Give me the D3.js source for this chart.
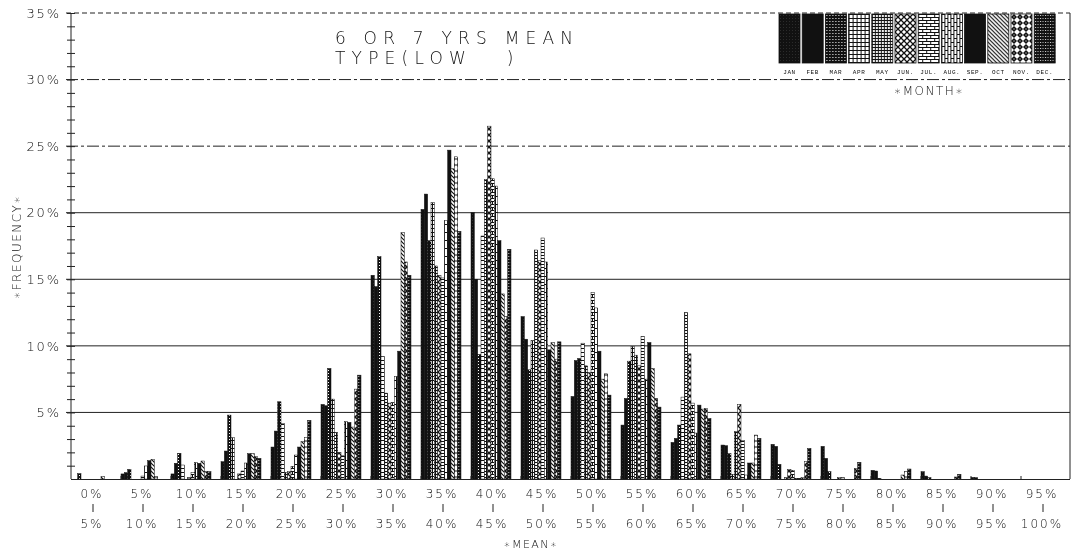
<!DOCTYPE html>
<html>
<head>
<meta charset="utf-8">
<script src="https://cdn.jsdelivr.net/npm/d3@7"></script>
<style>
  body { margin: 0; background: #fff; }
  svg { will-change: transform; }
  text { font-family: "Liberation Mono", "DejaVu Sans Mono", monospace; fill: #111;
    -webkit-font-smoothing: antialiased; }
  .thin { font-family: "DejaVu Sans", sans-serif; font-weight: 200; }
</style>
</head>
<body>
<svg width="1076" height="557"></svg>
<script>
// bins of the mean (lower / upper bound labels)
const binLow = ["0%", "5%", "10%", "15%", "20%", "25%", "30%", "35%", "40%", "45%",
  "50%", "55%", "60%", "65%", "70%", "75%", "80%", "85%", "90%", "95%"];
const binHigh = ["5%", "10%", "15%", "20%", "25%", "30%", "35%", "40%", "45%", "50%",
  "55%", "60%", "65%", "70%", "75%", "80%", "85%", "90%", "95%", "100%"];
const months = ["JAN", "FEB", "MAR", "APR", "MAY", "JUN.", "JUL.", "AUG.", "SEP.", "OCT", "NOV.", "DEC."];
const yTicks = [5, 10, 15, 20, 25, 30, 35];

// frequency (%) per bin, one array per month
const jan = [0, 0.38, 0.38, 1.3, 2.4, 5.6, 15.3, 20.25, 20.0, 12.2, 6.2, 4.05, 2.75, 2.55, 2.6, 2.45, 0.65, 0.55, 0.12, 0];
const feb = [0, 0.48, 1.18, 2.1, 3.6, 5.5, 14.45, 21.4, 15.0, 10.5, 8.9, 6.05, 3.05, 2.5, 2.45, 1.55, 0.6, 0.22, 0.1, 0];
const mar = [0.4, 0.72, 1.93, 4.8, 5.8, 8.3, 16.7, 17.9, 9.35, 8.2, 9.05, 8.85, 4.05, 1.9, 1.1, 0.55, 0.05, 0.1, 0, 0];
const apr = [0, 0, 1.05, 3.1, 4.15, 6.0, 9.2, 20.75, 18.25, 10.4, 10.2, 9.95, 6.15, 0.35, 0, 0, 0, 0, 0, 0];
const may = [0, 0, 0, 0, 0.5, 3.5, 6.45, 16.0, 22.5, 17.2, 8.5, 9.3, 12.5, 3.55, 0.1, 0, 0, 0, 0, 0];
const jun = [0, 0, 0.1, 0.38, 0.55, 2.0, 5.7, 15.3, 26.5, 16.4, 8.0, 8.5, 9.4, 5.6, 0.7, 0.1, 0, 0, 0, 0];
const jul = [0, 0.22, 0.48, 0.6, 0.95, 1.75, 5.75, 15.1, 22.55, 18.1, 14.0, 10.7, 5.7, 2.9, 0.65, 0.1, 0, 0, 0, 0];
const aug = [0, 0.98, 1.23, 1.2, 1.8, 4.3, 7.7, 19.4, 22.0, 16.3, 12.85, 7.5, 3.45, 0.3, 0.05, 0, 0, 0, 0, 0];
const sep = [0, 1.38, 1.18, 1.9, 2.4, 4.25, 9.6, 24.7, 17.9, 9.7, 9.6, 10.25, 5.55, 1.2, 0.05, 0, 0, 0, 0, 0];
const oct = [0.2, 1.48, 1.35, 1.9, 2.8, 3.9, 18.5, 23.3, 13.9, 10.25, 7.5, 8.3, 5.25, 1.2, 0.1, 0, 0.3, 0, 0, 0];
const nov = [0, 0.18, 0.55, 1.7, 3.1, 6.75, 16.3, 24.2, 12.2, 9.0, 7.9, 6.05, 5.3, 3.3, 1.3, 0.8, 0.55, 0.15, 0, 0];
const dec = [0, 0, 0.55, 1.55, 4.4, 7.8, 15.3, 18.6, 17.25, 10.3, 6.3, 5.4, 4.55, 3.05, 2.3, 1.25, 0.75, 0.35, 0, 0];

const series = [jan, feb, mar, apr, may, jun, jul, aug, sep, oct, nov, dec];

const svg = d3.select("svg");
const mLeft = 71, mRight = 1070, mTop = 13, mBottom = 479;

const x = d3.scaleBand().domain(binLow).range([mLeft, mLeft + 1000])
  .paddingInner(0.2).paddingOuter(0.1).align(0);
const xm = d3.scaleBand().domain(months).range([0, x.bandwidth()]);
const y = d3.scaleLinear().domain([0, 35]).range([mBottom, mTop]);

// fill patterns, one per month
const defs = svg.append("defs");
function pat(id, w, h, draw) {
  const p = defs.append("pattern").attr("id", id)
    .attr("patternUnits", "userSpaceOnUse").attr("width", w).attr("height", h);
  draw(p);
}
pat("pJan", 3, 3, p => {
  p.append("rect").attr("width", 3).attr("height", 3).attr("fill", "#111");
  p.append("rect").attr("x", 1).attr("y", 1).attr("width", 0.5).attr("height", 0.5).attr("fill", "#777");
});
pat("pMar", 3, 3, p => {
  p.append("rect").attr("width", 3).attr("height", 3).attr("fill", "#111");
  p.append("rect").attr("x", 1).attr("y", 1).attr("width", 1).attr("height", 1).attr("fill", "#fff");
});
pat("pApr", 4, 4, p => {
  p.append("rect").attr("width", 4).attr("height", 4).attr("fill", "#fff");
  p.append("path").attr("d", "M0,0.5H4M0.5,0V4").attr("stroke", "#111").attr("stroke-width", 1);
});
pat("pMay", 3, 3, p => {
  p.append("rect").attr("width", 3).attr("height", 3).attr("fill", "#fff");
  p.append("path").attr("d", "M0,0.5H3M0.5,0V3").attr("stroke", "#111").attr("stroke-width", 1.2);
});
pat("pJun", 6, 6, p => {
  p.append("rect").attr("width", 6).attr("height", 6).attr("fill", "#fff");
  p.append("path").attr("d", "M0,0L6,6M6,0L0,6").attr("stroke", "#111").attr("stroke-width", 1.3);
});
pat("pJul", 8, 6, p => {
  p.append("rect").attr("width", 8).attr("height", 6).attr("fill", "#fff");
  p.append("path").attr("d", "M0,0.5H8M0,3.5H8M0.5,0V3M4.5,3V6").attr("stroke", "#111").attr("stroke-width", 1);
});
pat("pAug", 6, 8, p => {
  p.append("rect").attr("width", 6).attr("height", 8).attr("fill", "#fff");
  p.append("path").attr("d", "M0.5,0V8M3.5,0V8M0,0.5H3M3,4.5H6").attr("stroke", "#111").attr("stroke-width", 1);
});
pat("pOct", 4, 4, p => {
  p.append("rect").attr("width", 4).attr("height", 4).attr("fill", "#fff");
  p.append("path").attr("d", "M-1,-1L5,5M-1,3L1,5M3,-1L5,1").attr("stroke", "#111").attr("stroke-width", 1.2);
});
pat("pNov", 6, 6, p => {
  p.append("rect").attr("width", 6).attr("height", 6).attr("fill", "#fff");
  p.append("path").attr("d", "M3,0L6,3L3,6L0,3Z").attr("fill", "#111");
  p.append("rect").attr("x", 2.5).attr("y", 2.5).attr("width", 1).attr("height", 1).attr("fill", "#fff");
});
pat("pDec", 2.5, 3, p => {
  p.append("rect").attr("width", 2.5).attr("height", 3).attr("fill", "#111");
  p.append("rect").attr("x", 1).attr("y", 1).attr("width", 0.8).attr("height", 1).attr("fill", "#fff");
});
const fills = ["url(#pJan)", "#111", "url(#pMar)", "url(#pApr)", "url(#pMay)", "url(#pJun)",
  "url(#pJul)", "url(#pAug)", "#111", "url(#pOct)", "url(#pNov)", "url(#pDec)"];

// grid lines
const dash = { 35: "5,3", 30: "12,3,3,3", 25: "12,3,3,3" };
svg.append("g").selectAll("line").data(yTicks).join("line")
  .attr("x1", 66).attr("x2", mRight)
  .attr("y1", d => y(d)).attr("y2", d => y(d))
  .attr("stroke", "#222").attr("stroke-width", 1)
  .attr("stroke-dasharray", d => dash[d] || null);

// bars
svg.append("g").selectAll("g").data(series).join("g")
  .attr("fill", (d, i) => fills[i])
  .selectAll("rect")
  .data((d, i) => d.map((v, j) => ({ v, bin: binLow[j], month: months[i] })))
  .join("rect")
  .attr("x", d => x(d.bin) + xm(d.month))
  .attr("y", d => y(d.v))
  .attr("width", xm.bandwidth())
  .attr("height", d => mBottom - y(d.v))
  .attr("stroke", d => d.v > 0 ? "#111" : "none")
  .attr("stroke-width", 0.5);

// y axis with 1% minor ticks
const ya = svg.append("g").attr("transform", `translate(${mLeft},0)`)
  .call(d3.axisLeft(y).tickValues(d3.range(1, 36)).tickSize(3).tickPadding(9)
    .tickFormat(d => d % 5 === 0 ? d + "%" : ""));
ya.select(".domain").attr("stroke", "#222").attr("d", `M0,${mTop}V${mBottom}`);
ya.selectAll(".tick line").attr("x1", -4).attr("x2", 4).attr("stroke", "#222");
ya.selectAll(".tick text").attr("class", "thin").style("font-size", "13px")
  .attr("letter-spacing", 1.8).attr("fill", "#111").attr("dx", 1.8);

// x axis
svg.append("line").attr("x1", mLeft).attr("x2", mRight).attr("y1", mBottom + 0.5).attr("y2", mBottom + 0.5)
  .attr("stroke", "#222");
svg.append("line").attr("x1", mRight).attr("x2", mRight).attr("y1", mTop).attr("y2", mBottom)
  .attr("stroke", "#222");
svg.append("g").selectAll("line").data(binLow.slice(1)).join("line")
  .attr("x1", d => x(d)).attr("x2", d => x(d))
  .attr("y1", mBottom - 3).attr("y2", mBottom + 1).attr("stroke", "#222");

const xl = svg.append("g").selectAll("g").data(binLow).join("g")
  .attr("transform", d => `translate(${x(d) + x.bandwidth() / 2},0)`);
xl.append("text").attr("class", "thin").attr("text-anchor", "middle").attr("y", 498)
  .style("font-size", "12px").attr("letter-spacing", 2).attr("dx", 1).text(d => d);
xl.append("line").attr("x1", 2).attr("x2", 2).attr("y1", 504).attr("y2", 512)
  .attr("stroke", "#222").attr("stroke-width", 1);
xl.append("text").attr("class", "thin").attr("text-anchor", "middle").attr("y", 528)
  .style("font-size", "12px").attr("letter-spacing", 2).attr("dx", 1).text((d, i) => binHigh[i]);

// axis titles
svg.append("text").attr("class", "thin").attr("x", 531).attr("y", 548).attr("text-anchor", "middle")
  .style("font-size", "11px").attr("letter-spacing", 1.5).text("∗MEAN∗");
svg.append("text").attr("class", "thin").attr("transform", "translate(21,247) rotate(-90)")
  .attr("text-anchor", "middle")
  .style("font-size", "12px").attr("letter-spacing", 1.5).text("∗FREQUENCY∗");

// title
svg.append("text").attr("class", "thin").attr("x", 335).attr("y", 44).style("font-size", "17px")
  .attr("letter-spacing", 6.2).text("6 OR 7 YRS MEAN");
svg.append("text").attr("class", "thin").attr("x", 335).attr("y", 64).style("font-size", "17px")
  .attr("letter-spacing", 6.2).attr("xml:space", "preserve").text("TYPE(LOW   )");

// legend
const lg = svg.append("g").selectAll("g").data(months).join("g")
  .attr("transform", (d, i) => `translate(${779 + i * 23.2},14)`);
lg.append("rect").attr("width", 21).attr("height", 49)
  .attr("fill", (d, i) => fills[i]).attr("stroke", "#111").attr("stroke-width", 0.8);
lg.append("text").attr("x", 10.5).attr("y", 60).attr("text-anchor", "middle")
  .style("font-size", "6px").attr("letter-spacing", 0.6).text(d => d);
svg.append("text").attr("class", "thin").attr("x", 929).attr("y", 95).attr("text-anchor", "middle")
  .style("font-size", "12px").attr("letter-spacing", 1.5).text("∗MONTH∗");
</script>
</body>
</html>
